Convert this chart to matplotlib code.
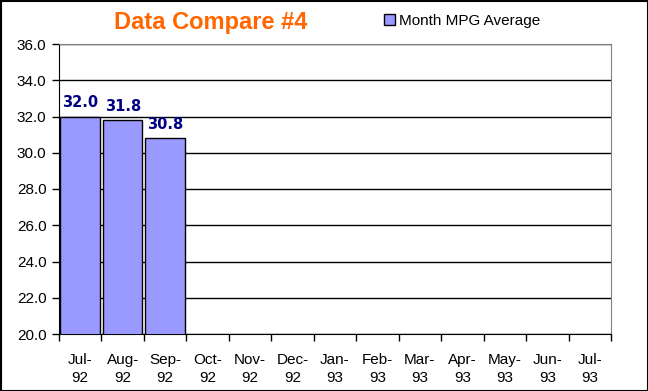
import matplotlib
matplotlib.use("Agg")
import matplotlib.pyplot as plt
import numpy as np

plt.rcParams['font.family'] = ['Liberation Sans', 'DejaVu Sans']

months = ["Jul-\n92", "Aug-\n92", "Sep-\n92", "Oct-\n92", "Nov-\n92", "Dec-\n92",
          "Jan-\n93", "Feb-\n93", "Mar-\n93", "Apr-\n93", "May-\n93", "Jun-\n93", "Jul-\n93"]
mpg_avg = [32.0, 31.8, 30.8]
yticks = np.arange(20.0, 36.01, 2.0)

fig = plt.figure(figsize=(6.48, 3.91), dpi=100)
ax = fig.add_axes([59 / 648, 1 - 334 / 391, 552 / 648, 290 / 391])

x = np.arange(len(mpg_avg))
bars = ax.bar(x, mpg_avg, width=0.93, color="#9999FF", edgecolor="black",
              linewidth=1.0, zorder=3, label="Month MPG Average")
for xi, v in zip(x, mpg_avg):
    ax.annotate(f"{v:.1f}", (xi, v), xytext=(0, 4.5), textcoords="offset points",
                ha="center", va="bottom", fontsize=10.5, fontweight="bold",
                family="DejaVu Sans", color="#000080", zorder=4)

ax.set_ylim(20, 36)
ax.set_xlim(-0.5, len(months) - 0.5)
ax.set_yticks(yticks)
ax.set_yticklabels([f"{t:.1f}" for t in yticks], fontsize=11)
ax.yaxis.grid(True, color="black", linewidth=1.0, zorder=1)
ax.set_axisbelow(True)

ax.set_xticks(np.arange(len(months)))
ax.set_xticklabels(months, fontsize=11, linespacing=1.3)
ax.set_xticks(np.arange(len(months) + 1) - 0.5, minor=True)
ax.tick_params(axis="x", which="major", length=0, pad=14)
ax.tick_params(axis="x", which="minor", length=5, direction="out", width=1)
ax.tick_params(axis="y", length=5, direction="out", width=1, pad=4)

for s in ["top", "right"]:
    ax.spines[s].set_color("#808080")
for s in ["left", "bottom"]:
    ax.spines[s].set_color("black")

fig.text(211 / 648, 1 - 22 / 391, "Data Compare #4", ha="center", va="center",
         fontsize=17, fontweight="bold", color="#FF6600")
fig.legend(handles=[bars], labels=["Month MPG Average"], loc="center left",
           bbox_to_anchor=(370 / 648, 1 - 21 / 391), frameon=False, fontsize=11,
           handlelength=0.75, handleheight=0.75, handletextpad=0.25)

fig.patches.append(plt.Rectangle((0.5 / 648, 0.5 / 391), 647 / 648, 390 / 391,
                                 transform=fig.transFigure, fill=False,
                                 edgecolor="black", linewidth=1.5))

fig.savefig("out.png", dpi=100)
